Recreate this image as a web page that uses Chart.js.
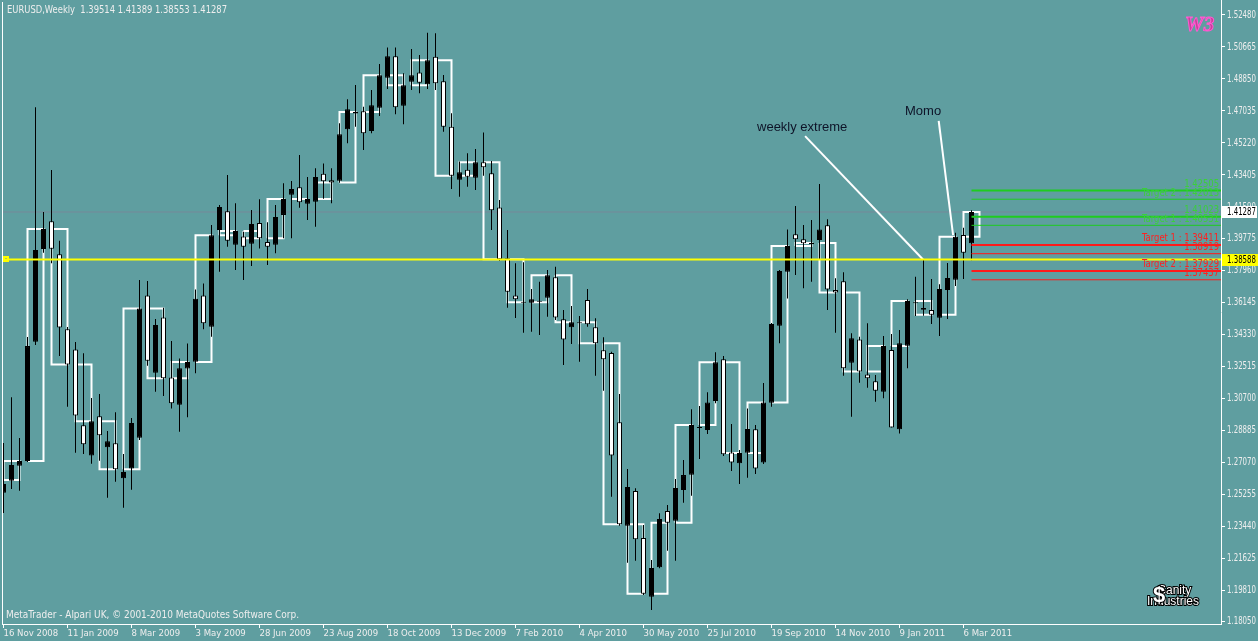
<!DOCTYPE html>
<html>
<head>
<meta charset="utf-8">
<title>EURUSD Weekly</title>
<script src="https://cdn.jsdelivr.net/npm/chart.js@4.4.1/dist/chart.umd.min.js"></script>
<style>
  html, body { margin: 0; padding: 0; background: #5f9ea0; overflow: hidden; }
</style>
</head>
<body>
<canvas id="priceChart" width="1258" height="641"></canvas>
<script>
// weekly bars, the first one is the week of 16 Nov 2008, the last one 13 Mar 2011
var opens = [
  1.2534, 1.2602, 1.2687, 1.2714, 1.3392, 1.3918, 1.4076, 1.3888, 1.3462, 1.3348,
  1.2917, 1.2746, 1.2968, 1.2792, 1.2815, 1.2616, 1.2671, 1.2846, 1.3655, 1.3216,
  1.3530, 1.3189, 1.3034, 1.3239, 1.3278, 1.3655, 1.3477, 1.4026, 1.4133, 1.3943,
  1.3989, 1.3949, 1.4066, 1.3958, 1.3943, 1.4112, 1.4227, 1.4269, 1.4176, 1.4187,
  1.4346, 1.4309, 1.4307, 1.4599, 1.4689, 1.4701, 1.4589, 1.4721, 1.4892, 1.5013,
  1.4733, 1.4869, 1.4922, 1.4854, 1.5011, 1.4871, 1.4613, 1.4312, 1.4369, 1.4324,
  1.4411, 1.4349, 1.4155, 1.3866, 1.3655, 1.3613, 1.3613, 1.3619, 1.3642, 1.3758,
  1.3519, 1.3474, 1.3496, 1.3629, 1.3474, 1.3343, 1.3328, 1.2934, 1.2346, 1.2543,
  1.2276, 1.1943, 1.2110, 1.2430, 1.2375, 1.2549, 1.2636, 1.2901, 1.2890, 1.3055,
  1.3292, 1.2763, 1.2701, 1.2761, 1.2894, 1.2705, 1.3045, 1.3483, 1.3789, 1.4002,
  1.3974, 1.3945, 1.3970, 1.4053, 1.3685, 1.3735, 1.3272, 1.3405, 1.3206, 1.3167,
  1.3108, 1.3345, 1.2894, 1.3369, 1.3612, 1.3573, 1.3572, 1.3528, 1.3685, 1.3744,
  1.3998, 1.39514
];
var highs = [
  1.2816, 1.3076, 1.2845, 1.3418, 1.4724, 1.4129, 1.4367, 1.3966, 1.3475, 1.3390,
  1.3326, 1.3072, 1.3095, 1.2884, 1.2991, 1.2754, 1.2958, 1.3742, 1.3737, 1.3521,
  1.3585, 1.3396, 1.3297, 1.3382, 1.3689, 1.3723, 1.4055, 1.4168, 1.4339, 1.4178,
  1.4017, 1.4140, 1.4201, 1.4070, 1.4168, 1.4292, 1.4305, 1.4453, 1.4328, 1.4377,
  1.4405, 1.4377, 1.4633, 1.4769, 1.4850, 1.4727, 1.4822, 1.4970, 1.5064, 1.5064,
  1.4917, 1.5055, 1.5021, 1.5147, 1.5144, 1.4907, 1.4690, 1.4415, 1.4462, 1.4487,
  1.4581, 1.4418, 1.4197, 1.4026, 1.3837, 1.3843, 1.3691, 1.3733, 1.3799, 1.3818,
  1.3572, 1.3595, 1.3538, 1.3691, 1.3525, 1.3417, 1.3335, 1.3095, 1.2668, 1.2559,
  1.2350, 1.2151, 1.2417, 1.2464, 1.2612, 1.2720, 1.3008, 1.3026, 1.3104, 1.3332,
  1.3310, 1.2924, 1.2776, 1.3013, 1.2918, 1.3157, 1.3498, 1.3799, 1.4030, 1.4163,
  1.4055, 1.4083, 1.4288, 1.4087, 1.3752, 1.3786, 1.3440, 1.3420, 1.3496, 1.3203,
  1.3424, 1.3435, 1.3458, 1.3633, 1.3761, 1.3862, 1.3748, 1.3718, 1.3839, 1.4011,
  1.4039, 1.41389
];
var lows = [
  1.2418, 1.2555, 1.2545, 1.2708, 1.3373, 1.3897, 1.3837, 1.3311, 1.3022, 1.2761,
  1.2754, 1.2699, 1.2716, 1.2505, 1.2596, 1.2449, 1.2551, 1.2833, 1.3255, 1.3108,
  1.3083, 1.3013, 1.2880, 1.2962, 1.3212, 1.3462, 1.3420, 1.3789, 1.3931, 1.3799,
  1.3742, 1.3822, 1.3922, 1.3828, 1.3894, 1.3980, 1.3980, 1.4153, 1.4083, 1.4045,
  1.4204, 1.4178, 1.4295, 1.4519, 1.4613, 1.4481, 1.4576, 1.4674, 1.4828, 1.4684,
  1.4627, 1.4822, 1.4803, 1.4828, 1.4822, 1.4585, 1.4259, 1.4216, 1.4272, 1.4254,
  1.4335, 1.4026, 1.3850, 1.3585, 1.3526, 1.3443, 1.3449, 1.3430, 1.3534, 1.3515,
  1.3259, 1.3379, 1.3278, 1.3477, 1.3199, 1.3113, 1.2511, 1.2346, 1.2136, 1.2147,
  1.1953, 1.1867, 1.2105, 1.2204, 1.2147, 1.2477, 1.2517, 1.2725, 1.2867, 1.3042,
  1.2742, 1.2657, 1.2583, 1.2619, 1.2640, 1.2697, 1.3022, 1.3383, 1.3638, 1.3771,
  1.3695, 1.3733, 1.3862, 1.3572, 1.3443, 1.3199, 1.2966, 1.3159, 1.3130, 1.3051,
  1.3070, 1.2905, 1.2871, 1.3241, 1.3538, 1.3539, 1.3492, 1.3424, 1.3521, 1.3708,
  1.3748, 1.38553
];
var closes = [
  1.2583, 1.2691, 1.2714, 1.3367, 1.3913, 1.4032, 1.3920, 1.3473, 1.3263, 1.2973,
  1.2809, 1.2940, 1.2860, 1.2826, 1.2667, 1.2651, 1.2930, 1.3581, 1.3284, 1.3487,
  1.3184, 1.3042, 1.3241, 1.3276, 1.3636, 1.3496, 1.3996, 1.4157, 1.3966, 1.4021,
  1.3932, 1.4061, 1.3979, 1.3932, 1.4100, 1.4203, 1.4259, 1.4184, 1.4203, 1.4328,
  1.4303, 1.4297, 1.4570, 1.4712, 1.4697, 1.4576, 1.4735, 1.4905, 1.5013, 1.4724,
  1.4849, 1.4905, 1.4863, 1.4991, 1.4860, 1.4613, 1.4335, 1.4354, 1.4329, 1.4411,
  1.4383, 1.4138, 1.3860, 1.3676, 1.3633, 1.3616, 1.3633, 1.3621, 1.3769, 1.3530,
  1.3405, 1.3502, 1.3498, 1.3491, 1.3383, 1.3292, 1.2746, 1.2354, 1.2566, 1.2269,
  1.1960, 1.2106, 1.2384, 1.2363, 1.2560, 1.2634, 1.2918, 1.2903, 1.3047, 1.3275,
  1.2752, 1.2706, 1.2759, 1.2896, 1.2672, 1.3047, 1.3492, 1.3793, 1.3936, 1.3974,
  1.3951, 1.3953, 1.4030, 1.3689, 1.3672, 1.3241, 1.3411, 1.3223, 1.3184, 1.3113,
  1.3367, 1.2905, 1.3383, 1.3623, 1.3610, 1.3583, 1.3545, 1.3691, 1.3754, 1.3988,
  1.3897, 1.41287
];

// time scale labels, one every 8 weeks
var xTickWeeks = [0, 8, 16, 24, 32, 40, 48, 56, 64, 72, 80, 88, 96, 104, 112, 120];
var xLabels = ['16 Nov 2008', '11 Jan 2009', '8 Mar 2009', '3 May 2009', '28 Jun 2009',
  '23 Aug 2009', '18 Oct 2009', '13 Dec 2009', '7 Feb 2010', '4 Apr 2010', '30 May 2010',
  '25 Jul 2010', '19 Sep 2010', '14 Nov 2010', '9 Jan 2011', '6 Mar 2011'];

var priceTicks = [1.52480, 1.50665, 1.48850, 1.47035, 1.45220, 1.43405, 1.41590, 1.39775,
  1.37960, 1.36145, 1.34330, 1.32515, 1.30700, 1.28885, 1.27070, 1.25255, 1.23440, 1.21625,
  1.19810, 1.18050];

// three-week boxes: each one runs from the previous block close to the block close
var boxWeeks = 3;
var firstBoxOpen = 1.2606;

var bidPrice = 1.41287;
var extremeLevel = 1.38588;
var targetLevels = [1.42505, 1.42013, 1.41023, 1.40531, 1.39411, 1.38919, 1.37929, 1.37437];
var targetNames = ['1.42505', 'Target 2 : 1.42013', '1.41023', 'Target 1 : 1.40531',
  'Target 1 : 1.39411', '1.38919', 'Target 2 : 1.37929', '1.37437'];

// hand drawn trend lines (week, price)
var weeklyExtremeLine = [{x: 100.2, y: 1.4560}, {x: 114.94, y: 1.38588}];
var momoLine = [{x: 116.9, y: 1.4646}, {x: 118.7, y: 1.3998}];

var bgColor = '#5f9ea0';
var axisText = '#eeeeee';
var narrow = "'DejaVu Sans Condensed', 'Liberation Sans', sans-serif";
var xMin = -0.1875, xMax = 152.1875;
var yMax = 1.533322, yMin = 1.178797;

var bodies = [], wicks = [], bodyColors = [];
for (var i = 0; i < closes.length; i++) {
  bodies.push({x: i, y: [opens[i], closes[i]]});
  wicks.push({x: i, y: [lows[i], highs[i]]});
  bodyColors.push(closes[i] >= opens[i] ? '#000000' : '#ffffff');
}

var boxPts = [];
for (var s = 0; s < closes.length; s += boxWeeks) {
  var e = Math.min(s + boxWeeks, closes.length) - 1;
  var from = s === 0 ? firstBoxOpen : closes[s - 1];
  var to = closes[e];
  var x1 = s + boxWeeks - 1;
  boxPts.push({x: s, y: from}, {x: x1, y: from}, {x: x1, y: to}, {x: s, y: to}, {x: s, y: from}, {x: s, y: null});
}

var lastWeek = closes.length - 1;

function hLine(level, x0, color, width, order) {
  return {
    type: 'line', data: [{x: x0, y: level}, {x: xMax, y: level}],
    borderColor: color, borderWidth: width, pointRadius: 0, fill: false, order: order
  };
}

var datasets = [
  {
    type: 'bar', label: 'body', data: bodies, backgroundColor: bodyColors, borderColor: '#000000',
    borderWidth: 1, borderSkipped: false, barThickness: 5, grouped: false, minBarLength: 1,
    inflateAmount: 0, order: 2
  },
  {
    type: 'bar', label: 'wick', data: wicks, backgroundColor: '#000000', borderWidth: 0,
    barThickness: 1, grouped: false, inflateAmount: 0, order: 3
  },
  {
    type: 'line', label: 'boxes', data: boxPts, borderColor: '#ffffff', borderWidth: 2,
    pointRadius: 0, fill: false, spanGaps: false, order: 4
  },
  hLine(bidPrice, xMin, '#778899', 1, 5),
  hLine(extremeLevel, xMin, '#ffff00', 2, 1),
  {
    type: 'line', data: weeklyExtremeLine, borderColor: '#ffffff', borderWidth: 2,
    pointRadius: 0, fill: false, order: 1
  },
  {
    type: 'line', data: momoLine, borderColor: '#ffffff', borderWidth: 2,
    pointRadius: 0, fill: false, order: 1
  }
];
targetLevels.forEach(function (lv, k) {
  datasets.push(hLine(lv, lastWeek, k < 4 ? '#1fcc1f' : '#ff1a1a', k % 2 === 0 ? 2 : 1, 0));
});

// draws text squeezed sideways so that "sample" would be exactly "width" px wide
function squeezed(c, text, x, y, sample, width) {
  var f = Math.min(1, width / c.measureText(sample).width);
  c.save();
  c.translate(x, y);
  c.scale(f, 1);
  c.fillText(text, 0, 0);
  c.restore();
}

var overlay = {
  id: 'overlay',
  beforeDraw: function (chart) {
    var c = chart.ctx;
    c.save();
    c.fillStyle = bgColor;
    c.fillRect(0, 0, chart.width, chart.height);
    c.restore();
  },
  afterDraw: function (chart) {
    var c = chart.ctx;
    var xs = chart.scales.x, ys = chart.scales.y, area = chart.chartArea;
    c.save();

    // left frame line
    c.strokeStyle = '#ffffff';
    c.lineWidth = 1;
    c.beginPath();
    c.moveTo(area.left + 0.5, 2);
    c.lineTo(area.left + 0.5, area.bottom);
    c.stroke();

    c.textBaseline = 'middle';
    c.textAlign = 'left';
    c.fillStyle = axisText;
    c.font = '11px ' + narrow;
    var title = 'EURUSD,Weekly  1.39514 1.41389 1.38553 1.41287';
    squeezed(c, title, 7, 10, title, 220);
    var copy = 'MetaTrader - Alpari UK, \u00a9 2001-2010 MetaQuotes Software Corp.';
    squeezed(c, copy, 6, 615, copy, 293);

    // price scale labels
    c.font = '11px ' + narrow;
    ys.ticks.forEach(function (t) {
      squeezed(c, t.value.toFixed(5), area.right + 6, ys.getPixelForValue(t.value), '1.52480', 29);
    });

    // target labels
    c.font = '11px ' + narrow;
    c.textAlign = 'right';
    c.textBaseline = 'bottom';
    targetLevels.forEach(function (lv, k) {
      c.fillStyle = k < 4 ? '#3ccf3c' : '#ff2020';
      squeezed(c, targetNames[k], area.right - 2, ys.getPixelForValue(lv) - 1, 'Target 1 : 1.39411', 77);
    });

    // notes
    c.font = '13px "Liberation Sans", Arial, sans-serif';
    c.textAlign = 'left';
    c.textBaseline = 'middle';
    c.fillStyle = '#0e1428';
    c.fillText('weekly extreme', xs.getPixelForValue(94.19), ys.getPixelForValue(1.4612));
    c.fillText('Momo', xs.getPixelForValue(112.69), ys.getPixelForValue(1.4703));

    // price boxes on the axis
    c.font = '11px ' + narrow;
    var yb = Math.round(ys.getPixelForValue(bidPrice));
    c.fillStyle = '#ffffff';
    c.fillRect(area.right + 1, yb - 6, 35, 12);
    c.fillStyle = '#000000';
    squeezed(c, bidPrice.toFixed(5), area.right + 6, yb, '1.52480', 29);
    var ye = Math.round(ys.getPixelForValue(extremeLevel));
    c.fillStyle = '#ffff00';
    c.fillRect(area.right + 1, ye - 6, 37, 12);
    c.fillStyle = '#000000';
    squeezed(c, extremeLevel.toFixed(5), area.right + 6, ye, '1.52480', 29);

    // selection marker at the left end of the yellow line
    c.strokeStyle = '#ffff00';
    c.lineWidth = 2;
    c.strokeRect(area.left + 2, ye - 3, 4, 4);

    // W3 logo
    c.font = 'italic bold 21px "Liberation Serif", serif';
    c.lineWidth = 1;
    c.strokeStyle = '#ff5ad2';
    c.fillStyle = '#c8409a';
    c.fillText('W3', 1185, 26);
    c.strokeText('W3', 1185, 26);

    // Sanity Industries logo
    c.font = '12px "Liberation Sans", sans-serif';
    c.lineWidth = 2;
    c.strokeStyle = '#000000';
    c.fillStyle = '#ffffff';
    c.strokeText('Sanity', 1158, 591);
    c.fillText('Sanity', 1158, 591);
    c.strokeText('Industries', 1147, 602);
    c.fillText('Industries', 1147, 602);
    c.font = 'bold 22px "Liberation Sans", sans-serif';
    c.strokeText('$', 1153, 596);
    c.fillText('$', 1153, 596);
    c.restore();
  }
};

new Chart(document.getElementById('priceChart'), {
  type: 'bar',
  data: {datasets: datasets},
  plugins: [overlay],
  options: {
    responsive: false,
    animation: false,
    devicePixelRatio: 1,
    layout: {padding: {left: 2, top: 0, right: 0, bottom: 0}},
    plugins: {legend: {display: false}, tooltip: {enabled: false}},
    scales: {
      x: {
        type: 'linear', min: xMin, max: xMax, offset: false,
        grid: {drawOnChartArea: false, drawTicks: true, tickLength: 4, color: '#ffffff', offset: false},
        border: {display: true, color: '#ffffff', width: 1},
        ticks: {
          color: axisText, font: {family: narrow, size: 9.5}, padding: 0, align: 'start',
          autoSkip: false, maxRotation: 0,
          callback: function (v) {
            var k = xTickWeeks.indexOf(v);
            return k >= 0 ? xLabels[k] : '';
          }
        },
        afterBuildTicks: function (scale) {
          scale.ticks = xTickWeeks.map(function (w) { return {value: w}; });
        },
        afterFit: function (scale) {
          scale.height = 17;
          scale.paddingLeft = 0; scale.paddingRight = 0;
        }
      },
      y: {
        type: 'linear', position: 'right', min: yMin, max: yMax,
        grid: {drawOnChartArea: false, drawTicks: true, tickLength: 4, color: '#ffffff'},
        border: {display: true, color: '#ffffff', width: 1},
        ticks: {display: false},
        afterBuildTicks: function (scale) {
          scale.ticks = priceTicks.map(function (p) { return {value: p}; });
        },
        afterFit: function (scale) {
          scale.width = 37;
          scale.paddingTop = 0; scale.paddingBottom = 0;
        }
      }
    }
  }
});
</script>
</body>
</html>
